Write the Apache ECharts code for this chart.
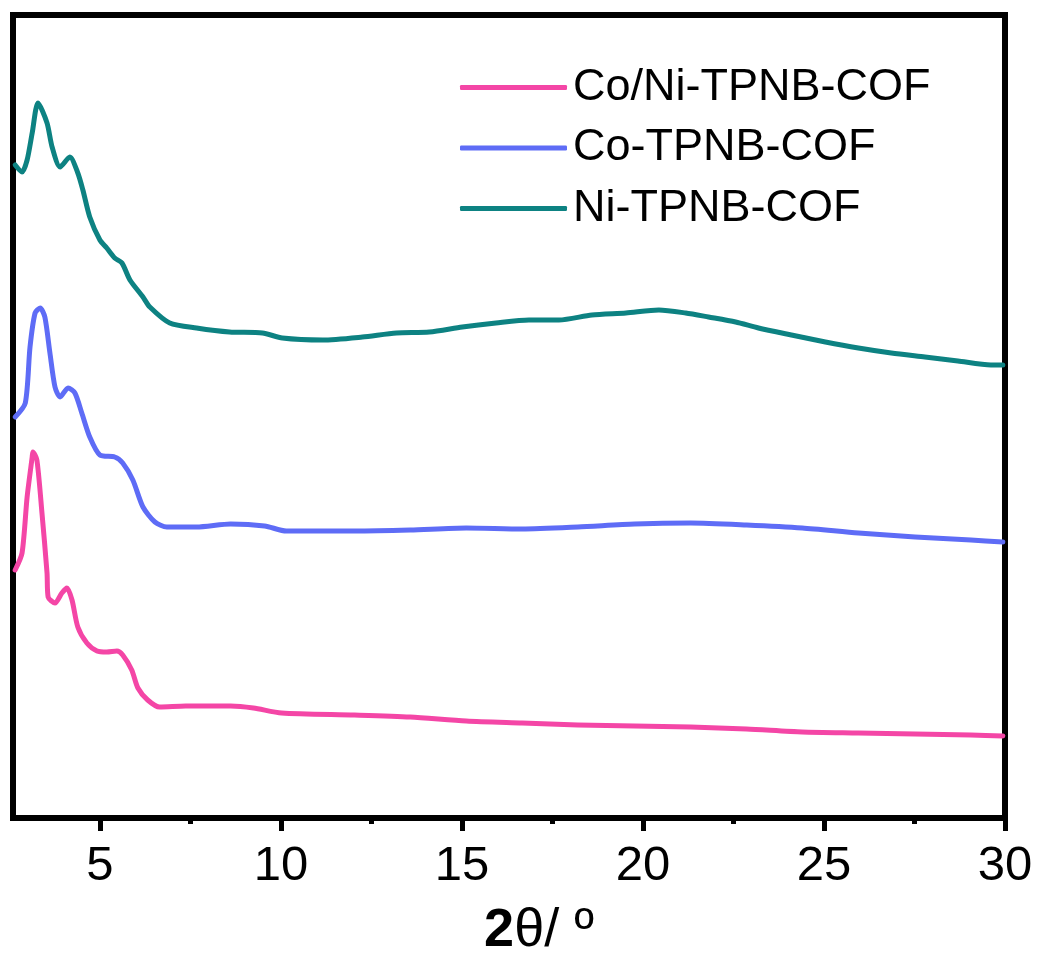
<!DOCTYPE html>
<html>
<head>
<meta charset="utf-8">
<script src="https://cdn.jsdelivr.net/npm/echarts@6/dist/echarts.min.js"></script>
<style>
html,body{margin:0;padding:0;background:#fff;}
#chart{width:1040px;height:956px;}
</style>
</head>
<body>
<div id="chart"></div>
<script>
// Series names
const seriesNames = ['Co/Ni-TPNB-COF', 'Co-TPNB-COF', 'Ni-TPNB-COF'];

// Major / minor tick positions (2θ)
const majorTicks = [5, 10, 15, 20, 25, 30];
const minorTicks = [7.5, 12.5, 17.5, 22.5, 27.5];

// Co/Ni-TPNB-COF (pink) : 2θ and intensity (a.u., stacked offset included)
const coNiX = [2.66,2.85,2.99,3.13,3.15,3.26,3.40,3.54,3.57,3.76,3.95,4.09,4.23,4.39,4.64,4.92,5.19,5.47,5.63,5.88,6.05,6.32,6.65,7.37,8.61,9.24,10.02,12.03,13.57,15.12,16.66,18.20,19.77,21.32,22.86,24.40,25.95,27.52,29.06,29.94];
const coNiY = [248,265,321,361,366,358,305,245,221,215,225,230,218,191,175,167,166,167,163,148,130,118,111,112,112,110,105,103,101,97,95,93,92,91,89,86,85,84,83,82];

// Co-TPNB-COF (blue)
const coX = [2.66,2.94,3.07,3.21,3.35,3.48,3.62,3.76,3.90,4.12,4.31,4.50,4.72,5.00,5.41,5.63,5.91,6.19,6.52,6.85,7.67,8.61,9.55,10.15,12.03,13.57,15.12,16.66,18.20,19.77,21.32,22.86,24.40,25.95,27.52,29.06,29.94];
const coY = [401,415,471,505,510,501,465,431,421,430,425,405,381,363,361,355,338,311,296,291,291,294,292,287,287,288,290,289,291,294,295,293,290,285,281,278,276];

// Ni-TPNB-COF (teal)
const niX = [2.66,2.85,2.99,3.13,3.29,3.54,3.68,3.90,4.17,4.39,4.53,4.72,5.00,5.19,5.41,5.61,5.83,6.19,6.38,6.93,7.67,8.58,9.49,10.04,11.15,12.25,13.19,14.10,15.01,15.94,16.85,17.68,18.59,19.53,20.44,21.18,21.81,22.56,23.19,24.10,25.04,25.95,26.86,27.79,28.70,29.61,29.94];
const niY = [653,646,658,685,715,695,671,651,661,645,628,601,578,570,560,555,538,521,511,495,490,486,485,480,478,481,485,486,491,495,498,498,503,505,508,505,501,496,490,483,476,470,465,461,457,453,453];

const colors = ['#F446A6', '#5E6CF6', '#0D8282'];

function pairs(xs, ys) { return xs.map((x, i) => [x, ys[i]]); }

const chart = echarts.init(document.getElementById('chart'), null, {renderer: 'canvas'});
const FONT = 'Liberation Sans, Arial, sans-serif';

const option = {
  backgroundColor: '#fff',
  animation: false,
  grid: {
    left: 13, right: 35, top: 15, bottom: 138,
    outerBoundsMode: 'none',
    containLabel: false,
    show: true, borderColor: '#000', borderWidth: 6, backgroundColor: 'transparent'
  },
  legend: {
    orient: 'vertical',
    left: 455, top: 60,
    itemWidth: 107, itemHeight: 5,
    itemGap: 15.5,
    icon: 'roundRect',
    textStyle: { fontFamily: FONT, fontSize: 45, color: '#000', lineHeight: 45, padding: [0,0,0,1] },
    data: seriesNames
  },
  xAxis: [{
    type: 'value', min: 2.6, max: 30,
    axisLine: { show: true, lineStyle: { color: '#000', width: 6 } },
    axisTick: { show: true, inside: false, length: 13, customValues: majorTicks, lineStyle: { color: '#000', width: 5 } },
    axisLabel: { show: true, customValues: majorTicks, margin: 24, fontFamily: FONT, fontSize: 49, color: '#000' },
    splitLine: { show: false },
    name: '{b|2}{n|θ/ º}',
    nameLocation: 'middle',
    nameGap: 86,
    nameTextStyle: {
      padding: [0, 0, 0, 60],
      rich: {
        b: { fontFamily: FONT, fontSize: 54, fontWeight: 'bold', color: '#000' },
        n: { fontFamily: FONT, fontSize: 54, color: '#000' }
      }
    }
  }, {
    type: 'value', min: 2.6, max: 30, position: 'bottom',
    axisLine: { show: false },
    axisTick: { show: true, inside: false, length: 6, customValues: minorTicks, lineStyle: { color: '#000', width: 5 } },
    axisLabel: { show: false },
    splitLine: { show: false }
  }],
  yAxis: {
    type: 'value', min: 0, max: 803,
    axisLine: { show: true, lineStyle: { color: '#000', width: 6 } },
    axisTick: { show: false },
    axisLabel: { show: false },
    splitLine: { show: false }
  },
  series: [
    { name: seriesNames[0], type: 'line', data: pairs(coNiX, coNiY) },
    { name: seriesNames[1], type: 'line', data: pairs(coX, coY) },
    { name: seriesNames[2], type: 'line', data: pairs(niX, niY) }
  ].map((s, i) => Object.assign(s, {
    xAxisIndex: 0,
    showSymbol: false, symbol: 'none',
    smooth: 0.25,
    color: colors[i],
    lineStyle: { color: colors[i], width: 5, cap: 'round', join: 'round' },
    itemStyle: { color: colors[i] }
  }))
};
chart.setOption(option);
</script>
</body>
</html>
